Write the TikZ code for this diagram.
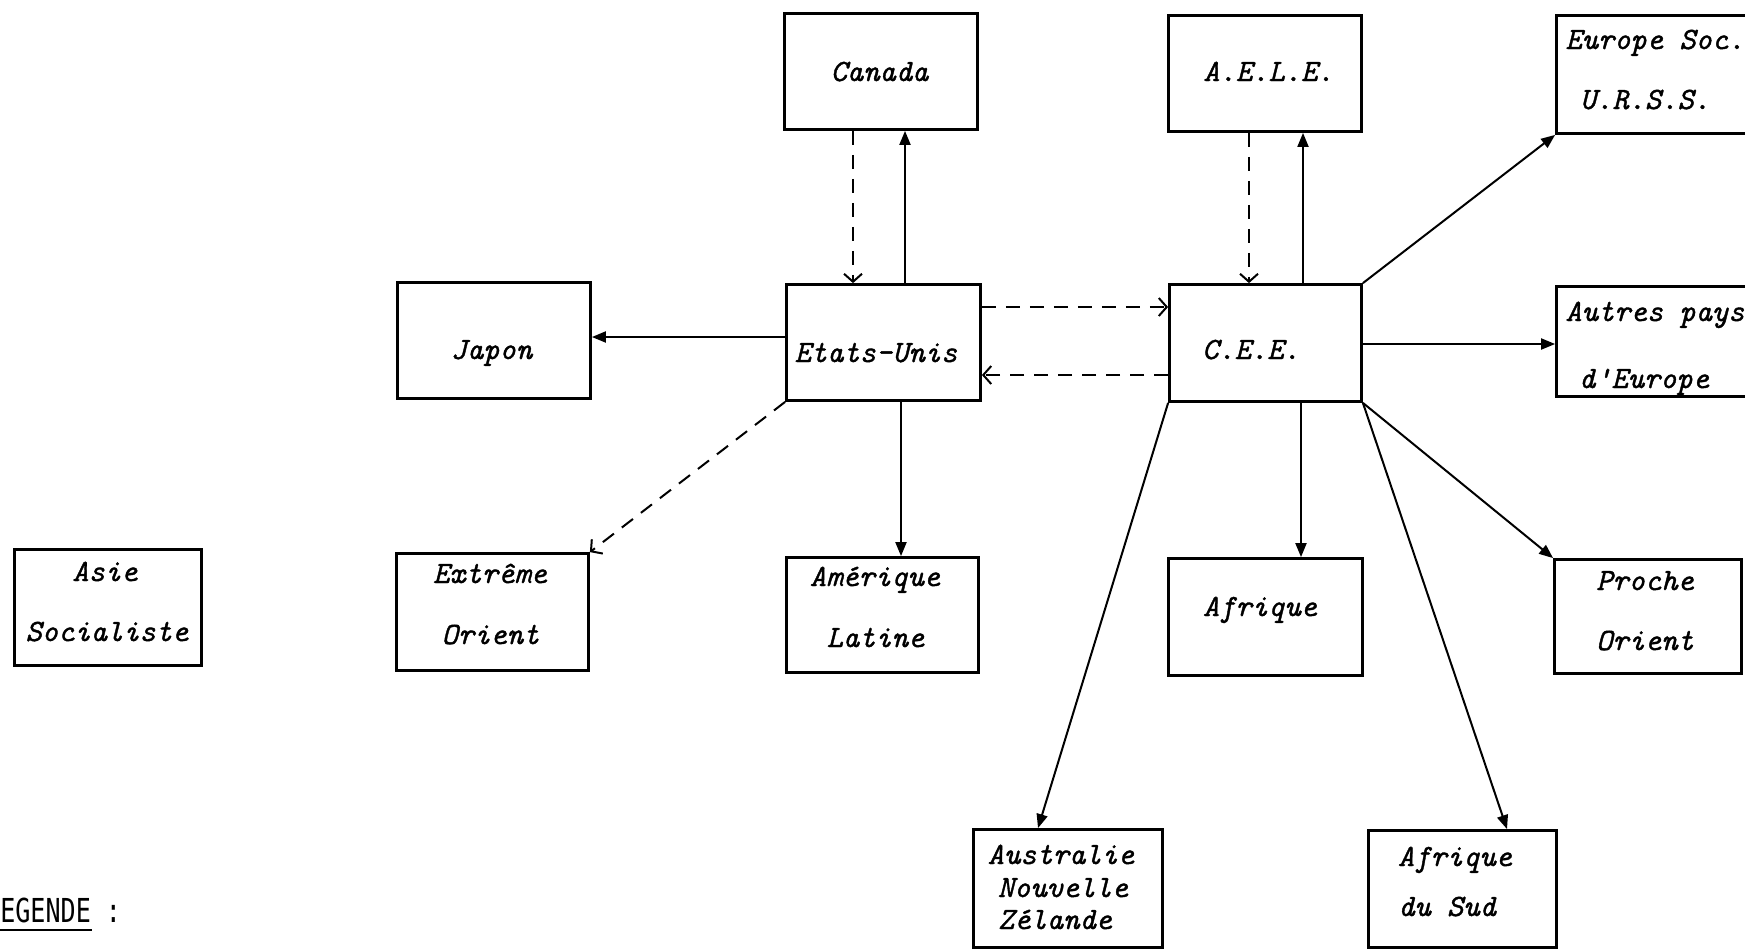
\documentclass[tikz,border=0pt]{standalone}
\usepackage{fontspec}
\newfontfamily\legfont{DejaVu Sans Mono}
\newfontfamily\labfont{lmmono10-italic.otf}[FakeBold=1.2]
\usetikzlibrary{arrows.meta}
\begin{document}
\begin{tikzpicture}[x=1pt,y=-1pt,
  box/.style={draw, line width=2.8pt, inner sep=0pt},
  lab/.style={anchor=base, inner sep=0pt, font=\labfont\fontsize{31}{37}\selectfont},
  solidarr/.style={line width=2pt, -{Triangle[length=14pt,width=11pt]}},
  dasharr/.style={line width=2pt, dash pattern=on 14pt off 10pt, -{Straight Barb[length=8pt,width=18pt]}}
]
\useasboundingbox (0,0) rectangle (1745,951);

% boxes
\node[box, minimum width=193pt, minimum height=116pt] (canada)  at (881,71.5) {};
\node[box, minimum width=193pt, minimum height=116pt] (aele)    at (1265,73.5) {};
\node[box, minimum width=193pt, minimum height=118pt] (europe)  at (1653,74.5) {};
\node[box, minimum width=193pt, minimum height=116pt] (japon)   at (494,340.5) {};
\node[box, minimum width=194pt, minimum height=116pt] (eu)      at (883.5,342.5) {};
\node[box, minimum width=192pt, minimum height=117pt] (cee)     at (1265.5,343) {};
\node[box, minimum width=193pt, minimum height=110pt] (autres)  at (1653,341.5) {};
\node[box, minimum width=187pt, minimum height=116pt] (asie)    at (108,607.5) {};
\node[box, minimum width=192pt, minimum height=117pt] (extreme) at (492.5,612) {};
\node[box, minimum width=192pt, minimum height=115pt] (amlat)   at (882.5,615) {};
\node[box, minimum width=194pt, minimum height=117pt] (afrique) at (1265.5,617) {};
\node[box, minimum width=187pt, minimum height=114pt] (proche)  at (1648,616.5) {};
\node[box, minimum width=189pt, minimum height=118pt] (austr)   at (1068,888.5) {};
\node[box, minimum width=188pt, minimum height=117pt] (afsud)   at (1462.5,889) {};

% texts
\node[lab] (canada-t)   at (879.5,81) {Canada};
\node[lab] (aele-t)     at (1268.5,81) {A.E.L.E.};
\node[lab] (europe-t1)  at (1655,49) {Europe Soc.};
\node[lab] (europe-t2)  at (1645,109) {U.R.S.S.};
\node[lab] (japon-t)    at (491.5,359) {Japon};
\node[lab] (eu-t)       at (876,362) {Etats-Unis};
\node[lab] (cee-t)      at (1251,359) {C.E.E.};
\node[lab] (autres-t1)  at (1655,321) {Autres pays};
\node[lab] (autres-t2)  at (1644,388) {d\textquotesingle Europe};
\node[lab] (asie-t1)    at (105,581) {Asie};
\node[lab] (asie-t2)    at (107,641) {Socialiste};
\node[lab] (extreme-t1) at (490,583) {Extrême};
\node[lab] (extreme-t2) at (490.5,644) {Orient};
\node[lab] (amlat-t1)   at (875,586) {Amérique};
\node[lab] (amlat-t2)   at (875.5,647) {Latine};
\node[lab] (afrique-t)  at (1260,616) {Afrique};
\node[lab] (proche-t1)  at (1645,590) {Proche};
\node[lab] (proche-t2)  at (1645,650) {Orient};
\node[lab] (austr-t1)   at (1061,864) {Australie};
\node[lab] (austr-t2)   at (1063,897) {Nouvelle};
\node[lab] (austr-t3)   at (1055,929) {Zélande};
\node[lab] (afsud-t1)   at (1455,866) {Afrique};
\node[lab] (afsud-t2)   at (1447,916) {du Sud};

% legend
\node[anchor=base west, inner sep=0pt] (legende) at (-15,922)
  {\scalebox{0.76}[1]{\legfont\fontsize{33}{33}\selectfont LEGENDE :}};
\draw[line width=2pt] ([yshift=-8pt]legende.base west) -- ++(107,0);

% connectors
\draw[dasharr]  (853,0 |- canada.south) -- (853,0 |- eu.north);
\draw[solidarr] (905,0 |- eu.north) -- (905,0 |- canada.south);
\draw[dasharr]  (1249,0 |- aele.south) -- (1249,0 |- cee.north);
\draw[solidarr] (1303,0 |- cee.north) -- (1303,0 |- aele.south);
\draw[dasharr]  (0,307 -| eu.east) -- (0,307 -| cee.west);
\draw[dasharr]  (0,375 -| cee.west) -- (0,375 -| eu.east);
\draw[solidarr] (0,337 -| eu.west) -- (0,337 -| japon.east);
\draw[solidarr] (901,0 |- eu.south) -- (901,0 |- amlat.north);
\draw[dasharr]  (eu.south west) -- (extreme.north east);
\draw[solidarr] (cee.north east) -- (europe.south west);
\draw[solidarr] (0,344 -| cee.east) -- (0,344 -| autres.west);
\draw[solidarr] (cee.south east) -- (proche.north west);
\draw[solidarr] (1301,0 |- cee.south) -- (1301,0 |- afrique.north);
\draw[solidarr] (cee.south west) -- (1038,0 |- austr.north);
\draw[solidarr] (cee.south east) -- (1507,0 |- afsud.north);
\end{tikzpicture}
\end{document}
